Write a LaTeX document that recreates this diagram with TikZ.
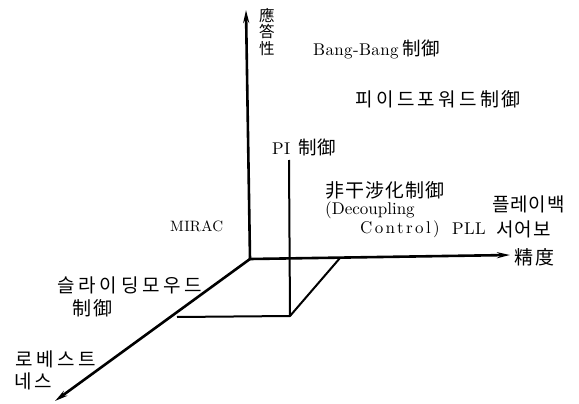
\documentclass[tikz,border=0pt]{standalone}
\usepackage{fontspec}
\newfontfamily\kr{Noto Sans CJK KR}
\newfontfamily\lmA[LetterSpace=2]{lmroman10-regular.otf}
\newfontfamily\lmC[LetterSpace=14]{lmroman10-regular.otf}
\newfontfamily\lmZ{lmroman10-regular.otf}
\ExplSyntaxOn
\NewDocumentCommand\pitch{mm}{\tl_map_inline:nn{#2}{\makebox[#1][l]{##1}}}
\ExplSyntaxOff
\usetikzlibrary{arrows.meta}
\begin{document}
\begin{tikzpicture}[x=1pt,y=-1pt,
  axis/.style={line width=2.6pt,-{Stealth[length=13pt,width=6pt]}},
  edge/.style={line width=2pt},
  lbl/.style={anchor=west,inner sep=0pt},
  krl/.style={lbl,font=\fontsize{19}{22}\selectfont\kr},
  lat/.style={lbl,font=\fontsize{17}{20}\selectfont\lmA}]
\useasboundingbox (0,0) rectangle (579,404);
% axes
\coordinate (O) at (250,259);
\coordinate (ytip) at (246,10);
\coordinate (xtip) at (510,255);
\coordinate (ztip) at (55,401);
\coordinate (P1) at (340,258);
\coordinate (P2) at (290,316);
\coordinate (P3) at (177,317);
\coordinate (PItop) at (289,160);
\draw[axis] (O) -- (ytip);
\draw[axis] (O) -- (xtip);
\draw[axis] (O) -- (ztip);
\draw[edge] (PItop) -- (P2);
\draw[edge] (P3) -- (P2) -- (P1);
% labels
\node[lbl,font=\fontsize{15.5}{16.5}\selectfont\kr,align=center,anchor=north west] (yl) at (259,8) {應\\答\\性};
\node[lat] (bb) at (313,49) {Bang-Bang\hspace{4pt}{\fontsize{18.5}{20}\selectfont\kr\pitch{19pt}{制御}}};
\node[krl] (ff) at (355,99) {\pitch{20.9pt}{피이드포워드制御}};
\node[lat] (pi) at (272,147) {PI\hspace{8pt}{\fontsize{18.5}{20}\selectfont\kr\pitch{19pt}{制御}}};
\node[krl] (dc) at (325,190) {\pitch{20pt}{非干涉化制御}};
\node[lat,font=\fontsize{17}{20}\selectfont\lmZ] (dc2) at (325,210) {(Decoupling};
\node[lat,font=\fontsize{17}{20}\selectfont\lmC] (dc3) at (360,229) {Control)};
\node[lat] (pll) at (452,229) {PLL};
\node[krl] (pb1) at (492,204) {\pitch{18.3pt}{플레이백}};
\node[krl] (pb2) at (496,229) {\pitch{18.5pt}{서어보}};
\node[krl] (xl) at (514,257) {\pitch{21pt}{精度}};
\node[lat,font=\fontsize{15}{18}\selectfont\lmA] (mirac) at (170,226) {MIRAC};
\node[krl] (sm1) at (57,285) {\pitch{21.3pt}{슬라이딩모우드}};
\node[krl] (sm2) at (72,308) {\pitch{21pt}{制御}};
\node[krl] (rb1) at (15,359) {\pitch{21pt}{로베스트}};
\node[krl] (rb2) at (14,381) {\pitch{20pt}{네스}};
\end{tikzpicture}
\end{document}
